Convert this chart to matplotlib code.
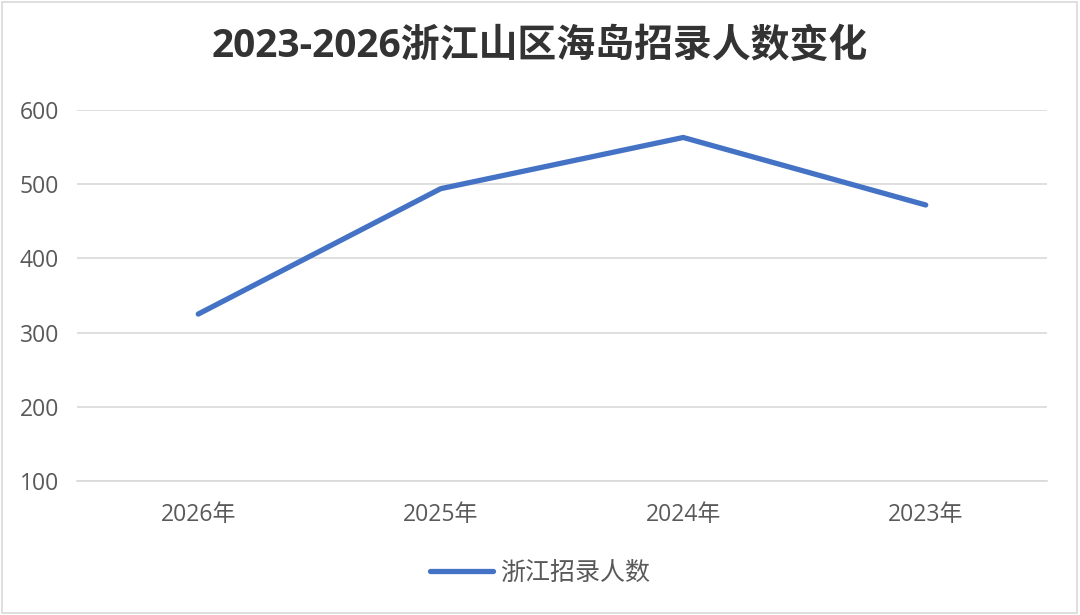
import matplotlib.pyplot as plt
from matplotlib.patches import Rectangle

plt.rcParams['font.family'] = ['Open Sans', 'Noto Sans CJK SC', 'DejaVu Sans']

years = ['2026年', '2025年', '2024年', '2023年']
counts = [325, 494, 563, 472]
series_name = '浙江招录人数'
title = '2023-2026浙江山区海岛招录人数变化'

fig = plt.figure(figsize=(10.8, 6.15), dpi=100)
ax = fig.add_axes([0.0713, 0.2179, 0.8981, 0.6032])

x = range(len(years))
ax.plot(x, counts, color='#4472C4', linewidth=3.8, solid_capstyle='round',
        solid_joinstyle='round', label=series_name)

ax.set_xlim(-0.5, len(years) - 0.5)
ax.set_ylim(100, 600)
ax.set_yticks([100, 200, 300, 400, 500, 600])
ax.set_xticks(list(x))
ax.set_xticklabels(years)

ax.grid(axis='y', color='#d9d9d9', linewidth=1.2)
ax.set_axisbelow(True)
for s in ['top', 'right', 'left']:
    ax.spines[s].set_visible(False)
ax.spines['bottom'].set_color('#d9d9d9')
ax.spines['bottom'].set_linewidth(1.2)
ax.tick_params(length=0, labelsize=16.5, colors='#595959')
ax.tick_params(axis='x', pad=16)
ax.tick_params(axis='y', pad=13)

fig.text(0.5, 0.925, title, ha='center', va='center', fontsize=28,
         fontweight='bold', color='#333333')

fig.legend(loc='center', bbox_to_anchor=(0.5, 0.068), frameon=False,
           fontsize=18, labelcolor='#595959', handlelength=2.5, handletextpad=0.3)

fig.patches.append(Rectangle((0.002, 0.004), 0.995, 0.993, transform=fig.transFigure,
                             fill=False, edgecolor='#d9d9d9', linewidth=1.2))

fig.savefig('out.png', dpi=100)
